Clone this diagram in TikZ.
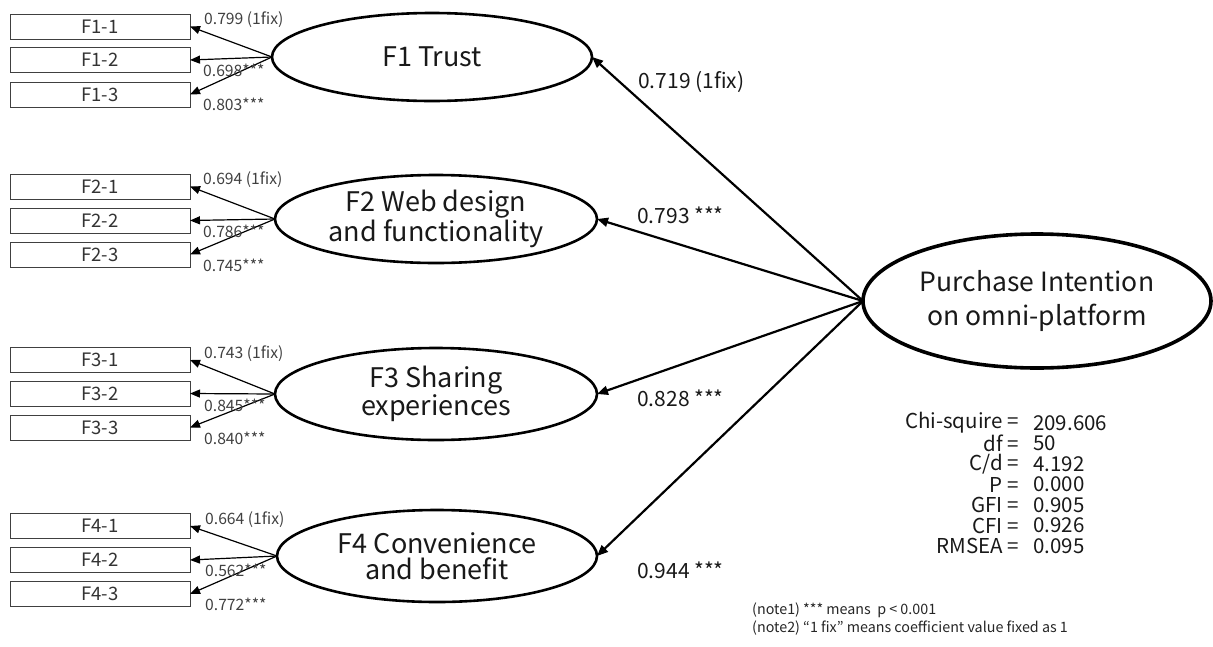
\documentclass[tikz,border=0pt]{standalone}
\usepackage{fontspec}
\setmainfont{Noto Sans CJK JP}
\usetikzlibrary{shapes.geometric,arrows.meta}
\begin{document}
\begin{tikzpicture}[x=1pt,y=-1pt,
  ind/.style={draw=black!75, line width=1pt, minimum width=180pt, minimum height=25pt, inner sep=0pt, outer sep=0pt, font=\fontsize{18.5}{18}\selectfont, text=black!80},
  lat/.style={ellipse, draw, line width=2.6pt, inner sep=0pt, outer sep=0pt, align=center, font=\fontsize{27}{26}\selectfont, text=black!90},
  load/.style={-{Triangle[length=10pt,width=8pt]}, line width=1.2pt},
  struct/.style={-{Triangle[length=11pt,width=9pt]}, line width=2.2pt},
  lbl/.style={anchor=west, inner sep=0pt, font=\fontsize{15.7}{15}\selectfont, text=black!75},
  plbl/.style={anchor=west, inner sep=0pt, font=\fontsize{21}{21}\selectfont, text=black!90},
  fitl/.style={anchor=east, inner sep=0pt, font=\fontsize{20.5}{20}\selectfont, text=black!90},
  fitv/.style={anchor=west, inner sep=0pt, font=\fontsize{20.5}{20}\selectfont, text=black!90},
  note/.style={anchor=west, inner sep=0pt, font=\fontsize{14.3}{14}\selectfont, text=black!85}]
\useasboundingbox (0,0) rectangle (1213,646);

% indicator boxes
\node[ind] (b11) at (100,26.5) {F1-1};
\node[ind] (b12) at (100,60) {F1-2};
\node[ind] (b13) at (100,94.5) {F1-3};
\node[ind] (b21) at (100,186.5) {F2-1};
\node[ind] (b22) at (100,220.5) {F2-2};
\node[ind] (b23) at (100,254.5) {F2-3};
\node[ind] (b31) at (100,360) {F3-1};
\node[ind] (b32) at (100,393.5) {F3-2};
\node[ind] (b33) at (100,427.5) {F3-3};
\node[ind] (b41) at (100,526) {F4-1};
\node[ind] (b42) at (100,560) {F4-2};
\node[ind] (b43) at (100,594) {F4-3};

% latent ellipses
\node[lat, minimum width=320pt, minimum height=88pt] (f1) at (432,57) {F1 Trust};
\node[lat, minimum width=322pt, minimum height=88pt] (f2) at (436,219) {F2 Web design\\and functionality};
\node[lat, minimum width=322pt, minimum height=92pt] (f3) at (436,394) {F3 Sharing\\experiences};
\node[lat, minimum width=320pt, minimum height=92pt] (f4) at (437,556) {F4 Convenience\\and benefit};
\node[lat, line width=3.6pt, minimum width=348pt, minimum height=134pt, font=\fontsize{26.5}{34}\selectfont] (pi) at (1037,301) {Purchase Intention\\on omni-platform};

% loadings
\foreach \f in {1,2,3,4}{
  \foreach \i in {1,2,3}{
    \draw[load] (f\f.west) -- (b\f\i.east);
  }
}
\node[lbl] (l11) at (204,20) {0.799 (1fix)};
\node[lbl] (l12) at (203,70) {0.698***};
\node[lbl] (l13) at (203,104) {0.803***};
\node[lbl] (l21) at (203,180) {0.694 (1fix)};
\node[lbl] (l22) at (203,231) {0.786***};
\node[lbl] (l23) at (203,265) {0.745***};
\node[lbl] (l31) at (204,354) {0.743 (1fix)};
\node[lbl] (l32) at (204,405) {0.845***};
\node[lbl] (l33) at (204,438) {0.840***};
\node[lbl] (l41) at (205,520) {0.664 (1fix)};
\node[lbl] (l42) at (205,570) {0.562***};
\node[lbl] (l43) at (205,604) {0.772***};

% structural paths
\draw[struct] (pi.west) -- (f1.east);
\draw[struct] (pi.west) -- (f2.east);
\draw[struct] (pi.west) -- (f3.east);
\draw[struct] (pi.west) -- (f4.east);
\node[plbl] (p1) at (638,82) {0.719 (1fix)};
\node[plbl] (p2) at (637,215) {0.793 ***};
\node[plbl] (p3) at (637,398) {0.828 ***};
\node[plbl] (p4) at (637,570) {0.944 ***};

% fit indices
\node[fitl] (k1) at (1019,423) {Chi-squire =};
\node[fitv] (v1) at (1033,423) {209.606};
\node[fitl] (k2) at (1019,443.5) {df =};
\node[fitv] (v2) at (1033,443.5) {50};
\node[fitl] (k3) at (1019,464) {C/d =};
\node[fitv] (v3) at (1033,464) {4.192};
\node[fitl] (k4) at (1019,484.5) {P =};
\node[fitv] (v4) at (1033,484.5) {0.000};
\node[fitl] (k5) at (1019,505) {GFI =};
\node[fitv] (v5) at (1033,505) {0.905};
\node[fitl] (k6) at (1019,525.5) {CFI =};
\node[fitv] (v6) at (1033,525.5) {0.926};
\node[fitl] (k7) at (1019,546) {RMSEA =};
\node[fitv] (v7) at (1033,546) {0.095};

% notes
\node[note] (n1) at (752,610) {(note1) *** means\ \ p < 0.001};
\node[note] (n2) at (752,628) {(note2) “1 fix” means coefficient value fixed as 1};
\end{tikzpicture}
\end{document}
